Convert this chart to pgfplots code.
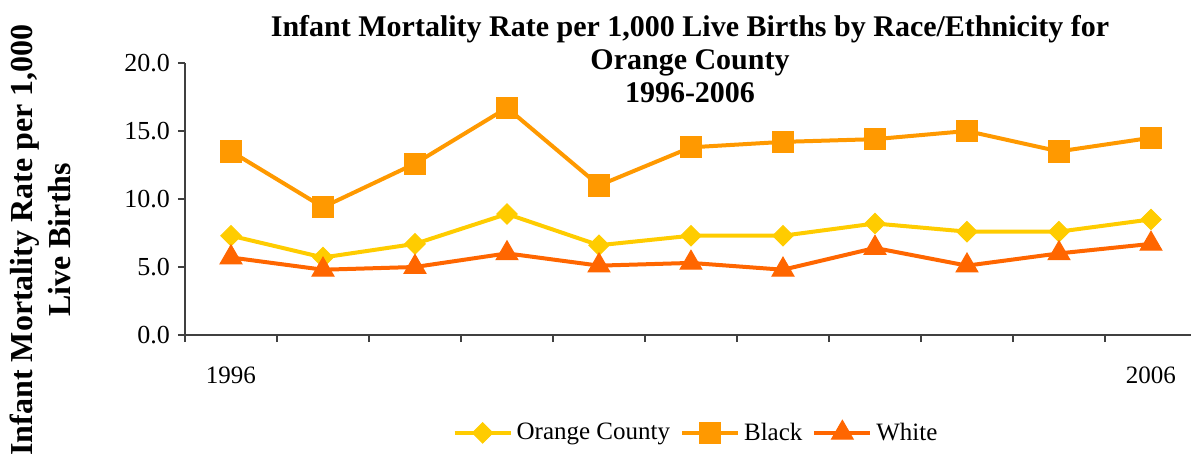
\documentclass[border=0pt]{standalone}
\usepackage{pgfplots}
\pgfplotsset{compat=1.18}
\usepackage{fontspec}
\setmainfont{Liberation Serif}
\definecolor{cOC}{HTML}{FFCC00}
\definecolor{cBl}{HTML}{FF9900}
\definecolor{cWh}{HTML}{FF6600}
\definecolor{axc}{HTML}{404040}
\begin{document}
\begin{tikzpicture}
\useasboundingbox (-92.5bp,-63.5bp) rectangle (503bp,167.5bp);
\begin{axis}[
  scale only axis,
  width=503bp, height=136bp,
  xmin=-0.5, xmax=10.435,
  ymin=0, ymax=20,
  axis x line=bottom, axis y line=left,
  axis line style={axc, line width=0.7bp, -},
  tick style={axc, line width=0.7bp},
  tick align=outside,
  major tick length=3.5bp,
  xtick={-0.5,0.5,...,9.5},
  xticklabels={},
  extra x ticks={0,10},
  extra x tick labels={1996,2006},
  extra x tick style={major tick length=0pt, xticklabel style={anchor=center, yshift=-20bp}},
  ytick={0,5,10,15,20},
  yticklabel style={/pgf/number format/fixed, /pgf/number format/fixed zerofill, /pgf/number format/precision=1, /pgf/number format/assume math mode=true,
    font=\fontsize{13bp}{15bp}\selectfont, xshift=-0.5bp},
  xticklabel style={font=\fontsize{12.5bp}{15bp}\selectfont},
  clip=false,
  legend columns=3,
  legend style={draw=none, fill=none, at={(0.509,-0.36)}, anchor=center,
    font=\fontsize{12.5bp}{15bp}\selectfont,
    /tikz/every even column/.append style={column sep=3bp}},
  legend image code/.code={\draw[mark repeat=2,mark phase=2] plot coordinates {(0bp,0bp) (14bp,0bp) (28bp,0bp)};},
]
\addplot[cOC, line width=2bp, mark=square*, mark size=3.6bp, mark options={rotate=45, fill=cOC, draw=cOC, line width=0.5bp}]
 coordinates {(0,7.3) (1,5.7) (2,6.7) (3,8.9) (4,6.6) (5,7.3) (6,7.3) (7,8.2) (8,7.6) (9,7.6) (10,8.5)};
\addlegendentry{Orange County}
\addplot[cBl, line width=2bp, mark=square*, mark size=5.3bp, mark options={fill=cBl, draw=cBl, line width=0.5bp}]
 coordinates {(0,13.5) (1,9.4) (2,12.6) (3,16.7) (4,11.0) (5,13.8) (6,14.2) (7,14.4) (8,15.0) (9,13.5) (10,14.5)};
\addlegendentry{Black}
\addplot[cWh, line width=2bp, mark=triangle*, mark size=6.3bp, mark options={fill=cWh, draw=cWh, line width=0.5bp}]
 coordinates {(0,5.7) (1,4.8) (2,5.0) (3,6.0) (4,5.1) (5,5.3) (6,4.8) (7,6.4) (8,5.1) (9,6.0) (10,6.7)};
\addlegendentry{White}
\end{axis}
\node[anchor=north, align=center, font=\bfseries\fontsize{15bp}{16.5bp}\selectfont] at (252.5bp,163.5bp)
 {Infant Mortality Rate per 1,000 Live Births by Race/Ethnicity for\\ Orange County\\ 1996-2006};
\node[rotate=90, align=center, font=\bfseries\fontsize{16bp}{19bp}\selectfont] at (-72.5bp,47.5bp)
 {Infant Mortality Rate per 1,000\\ Live Births};
\end{tikzpicture}
\end{document}
